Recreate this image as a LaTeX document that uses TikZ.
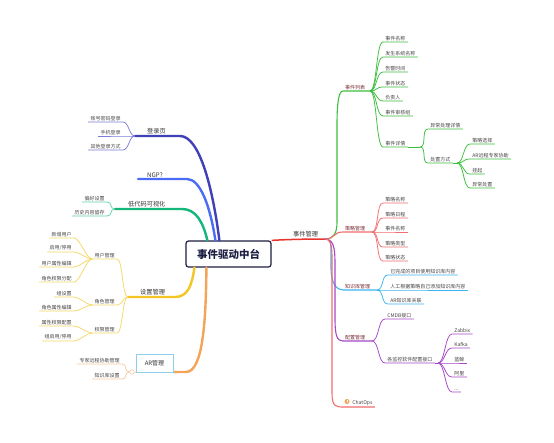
\documentclass[tikz,border=0pt]{standalone}
\usepackage{fontspec}
\setmainfont{Noto Sans CJK SC}
\usetikzlibrary{calc}
\definecolor{cnode}{HTML}{1E2044}
\definecolor{cindigo}{HTML}{4040B8}
\definecolor{cindigoL}{HTML}{7C7CDA}
\definecolor{cblue}{HTML}{4A6CF6}
\definecolor{cgreen}{HTML}{14B67C}
\definecolor{cgreenL}{HTML}{62D4A8}
\definecolor{cyellow}{HTML}{F3C623}
\definecolor{cyellowL}{HTML}{F5D866}
\definecolor{corange}{HTML}{F5A357}
\definecolor{corangeL}{HTML}{F8CBA4}
\definecolor{cred}{HTML}{E8332E}
\definecolor{cgreenB}{HTML}{3EBE3E}
\definecolor{csalmon}{HTML}{F26D6D}
\definecolor{csky}{HTML}{3DB4F2}
\definecolor{cpurple}{HTML}{A648C8}
\definecolor{ctxt}{HTML}{333333}
\definecolor{cleaf}{HTML}{4A4444}
\definecolor{cmaroon}{HTML}{7A2E35}
\definecolor{cboxb}{HTML}{8CCFEB}
\newcommand{\rleaf}[6]{\node[leaf,anchor=south west] (#1) at (#3,#4) {#5};
  \draw[#6] (#2) .. controls +(7,0) and +(-7,0) .. (#1.south west) -- (#1.south east);}
\newcommand{\lleaf}[6]{\node[leaf,anchor=south east] (#1) at (#3,#4) {#5};
  \draw[#6] (#2) .. controls +(-6,0) and +(6,0) .. (#1.south east) -- (#1.south west);}
\begin{document}
\begin{tikzpicture}[x=1pt,y=-1pt,
  leaf/.style={inner xsep=2.2pt,inner ysep=1.2pt,font=\fontsize{5}{6}\selectfont,text=cleaf},
  lvA/.style={inner xsep=2pt,inner ysep=1.6pt,font=\fontsize{6.2}{7}\selectfont,text=ctxt},
  lvB/.style={inner xsep=2pt,inner ysep=1.2pt,font=\fontsize{5}{6}\selectfont,text=cmaroon},
  mainl/.style={line width=2.4pt,line cap=round},
  subl/.style={line width=1.1pt},
  leafl/.style={line width=0.75pt},
  centre/.style={draw=cnode,line width=1.2pt,rounded corners=2.5pt,fill=white,
    minimum width=85pt,minimum height=26pt,inner sep=0pt,
    font=\fontsize{10.5}{12}\selectfont\bfseries,text=cnode},
  arbox/.style={draw=cboxb,line width=0.9pt,fill=white,minimum width=37pt,minimum height=18pt,
    inner sep=0pt,font=\fontsize{6}{7}\selectfont,text=ctxt},
]
\useasboundingbox[fill=white] (0,0) rectangle (554,442);

% centre
\node[centre] (C) at (228.5,254) {事件驱动中台};

% ================= right: 事件管理 =================
\coordinate (J0) at (325,239);
\node[lvA,anchor=south west] (sjgl) at (291,238.5) {事件管理};
\draw[line width=1.5pt,cred] (C.north east) .. controls +(15,-1) and +(-15,0) .. (J0);

% 事件列表
\node[lvB,anchor=south west] (sjlb) at (343,91) {事件列表};
\coordinate (J1) at (370,91);
\draw[subl,cgreenB] (J0) .. controls +(8,0) and +(0,12) .. (337,222) -- (337,125)
  .. controls +(0,-24) and +(-4,0) .. (sjlb.south west) -- (J1);
\rleaf{a1}{J1}{383}{42}{事件名称}{leafl,cgreenB}
\rleaf{a2}{J1}{383}{57}{发生系统名称}{leafl,cgreenB}
\rleaf{a3}{J1}{383}{72}{告警时间}{leafl,cgreenB}
\rleaf{a4}{J1}{383}{87}{事件状态}{leafl,cgreenB}
\rleaf{a5}{J1}{383}{101}{负责人}{leafl,cgreenB}
\rleaf{a6}{J1}{383}{116}{事件审核组}{leafl,cgreenB}
\rleaf{a7}{J1}{383}{147}{事件详情}{leafl,cgreenB}
\coordinate (J2) at (420,147);
\draw[leafl,cgreenB] (a7.south east) -- (J2);
\rleaf{b1}{J2}{428}{129}{异常处理详情}{leafl,cgreenB}
\rleaf{b2}{J2}{428}{163}{处置方式}{leafl,cgreenB}
\coordinate (J3) at (457,163);
\draw[leafl,cgreenB] (b2.south east) -- (J3);
\rleaf{c1}{J3}{470}{144}{策略选择}{leafl,cgreenB}
\rleaf{c2}{J3}{470}{159}{AR远程专家协助}{leafl,cgreenB}
\rleaf{c3}{J3}{470}{174}{挂起}{leafl,cgreenB}
\rleaf{c4}{J3}{470}{188}{异常处置}{leafl,cgreenB}

% 策略管理
\node[lvB,anchor=south west] (clgl) at (343,232) {策略管理};
\coordinate (J4) at (372,232);
\draw[subl,csalmon] (J0) .. controls +(10,0) and +(-10,0) .. (clgl.south west) -- (J4);
\rleaf{d1}{J4}{383}{203}{策略名称}{leafl,csalmon}
\rleaf{d2}{J4}{383}{218}{策略日程}{leafl,csalmon}
\rleaf{d3}{J4}{383}{232}{事件名称}{leafl,csalmon}
\rleaf{d4}{J4}{383}{247}{策略类型}{leafl,csalmon}
\rleaf{d5}{J4}{383}{261}{策略状态}{leafl,csalmon}

% 知识库管理
\node[lvB,anchor=south west] (zsk) at (343,290) {知识库管理};
\coordinate (J5) at (377,290);
\draw[subl,csky] (J0) .. controls +(6,0) and +(0,-12) .. (331,255) -- (331,268)
  .. controls +(0,16) and +(-6,0) .. (zsk.south west) -- (J5);
\rleaf{e1}{J5}{388}{275}{已完成的项目使用知识库内容}{leafl,csky}
\rleaf{e2}{J5}{388}{290}{人工根据策略自己添加知识库内容}{leafl,csky}
\rleaf{e3}{J5}{388}{304}{AR知识库关联}{leafl,csky}

% 配置管理
\node[lvB,anchor=south west] (pzgl) at (343,341) {配置管理};
\coordinate (J6) at (372,341);
\draw[subl,cpurple] (J0) .. controls +(8,0) and +(0,-15) .. (335,262) -- (335,318)
  .. controls +(0,18) and +(-6,0) .. (pzgl.south west) -- (J6);
\rleaf{f1}{J6}{385}{319}{CMDB接口}{leafl,cpurple}
\rleaf{f2}{J6}{385}{363}{各监控软件配置接口}{leafl,cpurple}
\coordinate (J7) at (438,363);
\draw[leafl,cpurple] (f2.south east) -- (J7);
\rleaf{g1}{J7}{452}{334}{Zabbix}{leafl,cpurple}
\rleaf{g2}{J7}{452}{348}{Kafka}{leafl,cpurple}
\rleaf{g3}{J7}{452}{363}{蓝鲸}{leafl,cpurple}
\rleaf{g4}{J7}{452}{377}{阿里}{leafl,cpurple}
\rleaf{g5}{J7}{452}{392}{...}{leafl,cpurple}

% ChatOps
\node[leaf,anchor=south west] (chat) at (350,407) {ChatOps};
\node[circle,fill=corange,minimum size=5pt,inner sep=0pt] (chati) at (347,401.5) {};
\draw[white,line width=0.5pt] ($(chati.center)+(0,-1.3)$) -- ($(chati.center)+(0,0.5)$);
\fill[white] ($(chati.center)+(0,1.2)$) circle (0.35pt);
\draw[subl,csalmon] (J0) .. controls +(5,0) and +(0,-15) .. (332,258) -- (332,393)
  .. controls +(0,14) and +(-8,0) .. (344,407) -- (chat.south east);

% ================= left =================
% 登录页
\coordinate (J8) at (135,136);
\node[lvA,anchor=south west] (dlym) at (145,136) {登录页};
\draw[mainl,cindigo] ($(C.north west)+(34,0)$) .. controls (213,190) and (200,136) .. (180,136) -- (J8);
\lleaf{h1}{J8}{123}{122}{账号密码登录}{leafl,cindigoL}
\lleaf{h2}{J8}{123}{136}{手机登录}{leafl,cindigoL}
\lleaf{h3}{J8}{123}{150}{其他登录方式}{leafl,cindigoL}

% NGP?
\coordinate (ngpend) at (138,179);
\node[lvA,anchor=south west] (ngp) at (145,179) {NGP?};
\draw[mainl,cblue] ($(C.north west)+(30,0)$) .. controls (210,205) and (200,179) .. (187,179) -- (ngpend);

% 低代码可视化
\coordinate (J9) at (115,209);
\node[lvA,anchor=south west] (ddm) at (126,209) {低代码可视化};
\draw[mainl,cgreen] ($(C.north west)+(22,0)$) .. controls (203,222) and (196,209) .. (182,209) -- (J9);
\lleaf{i1}{J9}{107}{202}{偏好设置}{leafl,cgreenL}
\lleaf{i2}{J9}{107}{216}{历史内容留存}{leafl,cgreenL}

% 设置管理
\coordinate (J10) at (128,297);
\node[lvA,anchor=south west] (szgl) at (138,297) {设置管理};
\draw[mainl,cyellow] ($(C.south west)+(9,0)$) .. controls (192,285) and (188,297) .. (175,297) -- (J10);
\lleaf{yh}{J10}{117}{259}{用户管理}{leafl,cyellowL}
\lleaf{js}{J10}{117}{305}{角色管理}{leafl,cyellowL}
\lleaf{qx}{J10}{117}{333}{权限管理}{leafl,cyellowL}
\lleaf{k1}{yh.south west}{74}{238}{新增用户}{leafl,cyellowL}
\lleaf{k2}{yh.south west}{74}{252}{启用/停用}{leafl,cyellowL}
\lleaf{k3}{yh.south west}{74}{267}{用户属性编辑}{leafl,cyellowL}
\lleaf{k4}{yh.south west}{74}{282}{角色权限分配}{leafl,cyellowL}
\lleaf{m1}{js.south west}{74}{297}{组设置}{leafl,cyellowL}
\lleaf{m2}{js.south west}{74}{311}{角色属性编辑}{leafl,cyellowL}
\lleaf{n1}{qx.south west}{74}{326}{属性权限配置}{leafl,cyellowL}
\lleaf{n2}{qx.south west}{74}{341}{组启用/停用}{leafl,cyellowL}

% AR管理
\draw[mainl,corange] ($(C.south west)+(21,0)$) .. controls (206,320) and (203,372) .. (186,372) -- (173,372);
\node[arbox] (ar) at (154.5,363.5) {AR管理};
\node[circle,draw=corangeL,fill=white,line width=0.6pt,minimum size=4.5pt,inner sep=0pt] (J14) at (132,372) {};
\draw[leafl,corangeL] (ar.south west) -- (J14.east);
\lleaf{o1}{J14.west}{122}{364}{专家远程协助管理}{leafl,corangeL}
\lleaf{o2}{J14.west}{122}{379}{知识库设置}{leafl,corangeL}
\end{tikzpicture}
\end{document}
